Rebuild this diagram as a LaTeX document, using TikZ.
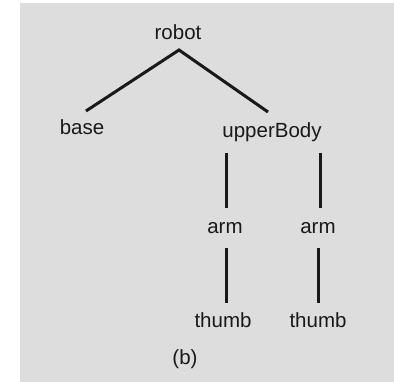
\documentclass[tikz,border=0pt]{standalone}
\usepackage{fontspec}
\setmainfont{Liberation Sans}
\definecolor{bggray}{RGB}{221,221,221}
\definecolor{ink}{RGB}{25,25,25}
\begin{document}
\begin{tikzpicture}[x=1pt,y=-1pt,
  lbl/.style={text=ink,font=\fontsize{20.5}{22}\selectfont,inner sep=0pt,anchor=base},
  edge/.style={draw=ink,line width=3pt}]
\useasboundingbox (0,0) rectangle (394,382);
\fill[white] (0,0) rectangle (394,382);
\fill[bggray] (20,3) rectangle (394,382);
\node[lbl] (robot) at (178,40) {robot};
\node[lbl] (base) at (82,135) {base};
\node[lbl] (upper) at (272,138) {upperBody};
\node[lbl] (arma) at (225,234) {arm};
\node[lbl] (armb) at (318,234) {arm};
\node[lbl] (thumba) at (223,328) {thumb};
\node[lbl] (thumbb) at (318,328) {thumb};
\node[lbl] (cap) at (185,364) {(b)};
\coordinate (top) at (179,50);
\coordinate (bl) at (86,111);
\coordinate (br) at (268,112);
\coordinate (a1) at (226,153);
\coordinate (a2) at (226,208);
\coordinate (b1) at (320,153);
\coordinate (b2) at (320,208);
\coordinate (c1) at (226,248);
\coordinate (c2) at (226,303);
\coordinate (d1) at (318,248);
\coordinate (d2) at (318,303);
\draw[edge] (bl) -- (top) -- (br);
\draw[edge] (a1) -- (a2);
\draw[edge] (b1) -- (b2);
\draw[edge] (c1) -- (c2);
\draw[edge] (d1) -- (d2);
\end{tikzpicture}
\end{document}
